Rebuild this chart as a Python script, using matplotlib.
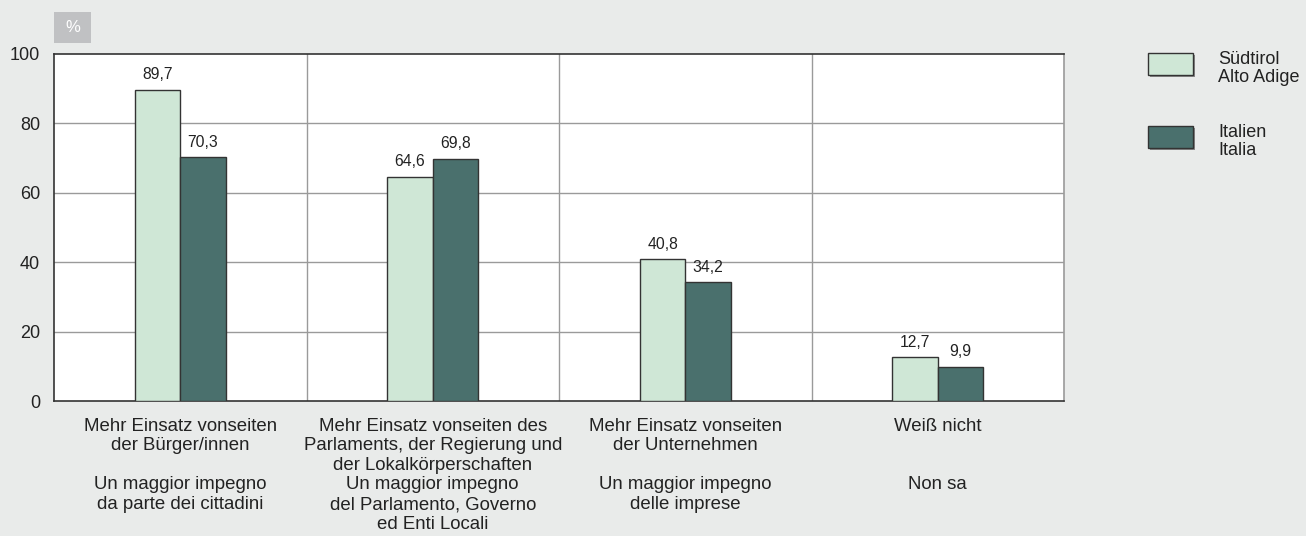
import matplotlib
matplotlib.use("Agg")
import matplotlib.pyplot as plt
from matplotlib.patches import Rectangle
import numpy as np

plt.rcParams['font.family'] = ['Liberation Sans', 'DejaVu Sans']

# data
categories = [
    "Mehr Einsatz vonseiten\nder Bürger/innen\n\nUn maggior impegno\nda parte dei cittadini",
    "Mehr Einsatz vonseiten des\nParlaments, der Regierung und\nder Lokalkörperschaften\nUn maggior impegno\ndel Parlamento, Governo\ned Enti Locali",
    "Mehr Einsatz vonseiten\nder Unternehmen\n\nUn maggior impegno\ndelle imprese",
    "Weiß nicht\n\n\nNon sa",
]
suedtirol = [89.7, 64.6, 40.8, 12.7]
italien = [70.3, 69.8, 34.2, 9.9]
series_names = ["Südtirol\nAlto Adige", "Italien\nItalia"]
yticks = [0, 20, 40, 60, 80, 100]

bg = "#e9ebea"
c_light = "#cfe7d6"
c_dark = "#4a706d"
txt = "#222222"

fig = plt.figure(figsize=(13.06, 5.36), dpi=100, facecolor=bg)
ax = fig.add_axes([54 / 1306, 1 - 401 / 536, (1064 - 54) / 1306, (401 - 54) / 536])
ax.set_facecolor("white")

x = np.arange(len(categories))
w = 0.18
b1 = ax.bar(x - w / 2, suedtirol, w, color=c_light, edgecolor="#333333", linewidth=1, zorder=3)
b2 = ax.bar(x + w / 2, italien, w, color=c_dark, edgecolor="#333333", linewidth=1, zorder=3)

for bars, vals in ((b1, suedtirol), (b2, italien)):
    for r, v in zip(bars, vals):
        ax.annotate(f"{v:.1f}".replace(".", ","), (r.get_x() + r.get_width() / 2, v),
                    xytext=(0, 7.5), textcoords="offset points", ha="center", va="baseline",
                    fontsize=11.3, color=txt)

ax.set_xlim(-0.5, len(categories) - 0.5)
ax.set_ylim(0, 100)
ax.set_yticks(yticks)
ax.set_yticklabels([str(t) for t in yticks], fontsize=13, color=txt)
ax.set_xticks(x)
ax.set_xticklabels(categories, fontsize=13.4, color=txt, linespacing=1.2, va="top")
ax.tick_params(axis="y", length=0, pad=10)
ax.tick_params(axis="x", length=0, pad=12)

for yv in yticks[1:-1]:
    ax.axhline(yv, color="#9a9a9a", linewidth=1, zorder=1)
for xv in x[:-1] + 0.5:
    ax.axvline(xv, color="#9a9a9a", linewidth=1, zorder=1)

for s in ("left", "top", "bottom"):
    ax.spines[s].set_color("#333333")
    ax.spines[s].set_linewidth(1.2)
ax.spines["right"].set_color("#9a9a9a")
ax.spines["right"].set_linewidth(1.2)

# "%" box
fig.patches.append(Rectangle((54 / 1306, 1 - 43 / 536), 37 / 1306, 31 / 536,
                             transform=fig.transFigure, facecolor="#c0c1c3", edgecolor="none"))
fig.text(72.5 / 1306, 1 - 28 / 536, "%", ha="center", va="center", fontsize=12, color="white")

# legend
for i, (name, col) in enumerate(zip(series_names, [c_light, c_dark])):
    top = 53 + i * 73
    fig.patches.append(Rectangle((1150 / 1306, 1 - (top + 24) / 536), 45 / 1306, 22 / 536,
                                 transform=fig.transFigure, facecolor="#8a8a8a", edgecolor="none"))
    fig.patches.append(Rectangle((1148 / 1306, 1 - (top + 22) / 536), 45 / 1306, 22 / 536,
                                 transform=fig.transFigure, facecolor=col, edgecolor="#333333",
                                 linewidth=1))
    fig.text(1218 / 1306, 1 - (top - 2) / 536, name, ha="left", va="top", fontsize=13,
             color=txt, linespacing=1.1)

fig.savefig("out.png", dpi=100, facecolor=bg)
